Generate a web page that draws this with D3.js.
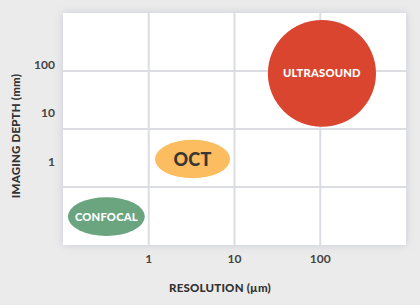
<!DOCTYPE html>
<html>
<head>
<meta charset="utf-8">
<script src="https://cdn.jsdelivr.net/npm/d3@7"></script>
<style>
  html, body { margin: 0; padding: 0; background: #ebebeb; }
  svg { display: block; font-family: Lato, "Open Sans", sans-serif; }
</style>
</head>
<body>
<div id="chart"></div>
<script>
// techniques and the range of resolution (µm) / imaging depth (mm) each covers
const techniques = ["ULTRASOUND", "OCT", "CONFOCAL"];
const resolutionMin = [24.5, 1.18, 0.114];
const resolutionMax = [447, 8.9, 0.9];
const depthMin = [5.2, 0.45, 0.029];
const depthMax = [830, 2.8, 0.184];

const xTicks = [1, 10, 100];
const yTicks = [1, 10, 100];
const gridRows = [1, 2, 3];

const fills = ["#da452f", "#fbbd60", "#6aa57f"];
const labelColors = ["#fff", "#3a3633", "#fff"];
const labelSizes = [11.2, 18, 11.2];

document.addEventListener("DOMContentLoaded", () => {
    const width = 420, height = 305;
    const plot = { left: 63, right: 406, top: 13, bottom: 245 };

    const svg = d3.select("#chart")
        .append("svg")
        .attr("width", width)
        .attr("height", height);

    // soft shadow behind the white panel
    const defs = svg.append("defs");
    const f = defs.append("filter").attr("id", "shadow")
        .attr("x", "-10%").attr("y", "-10%").attr("width", "120%").attr("height", "120%");
    f.append("feDropShadow")
        .attr("dx", 0).attr("dy", 0).attr("stdDeviation", 4)
        .attr("flood-color", "#9ea3bd").attr("flood-opacity", 0.45);

    let x = d3.scaleLog().domain([0.1, 1000]).range([plot.left, plot.right]);
    let y = d3.scaleLog().domain([1, 100]).range([161.5, 64.5]);
    let row = d3.scaleLinear().domain([0, 4]).range([plot.bottom, plot.top]);

    svg.append("rect")
        .attr("x", plot.left).attr("y", plot.top)
        .attr("width", plot.right - plot.left)
        .attr("height", plot.bottom - plot.top)
        .attr("fill", "#fff")
        .attr("filter", "url(#shadow)");

    // grid
    svg.append("g").selectAll("line").data(xTicks).enter().append("line")
        .attr("x1", d => x(d)).attr("x2", d => x(d))
        .attr("y1", plot.top).attr("y2", plot.bottom)
        .attr("stroke", "#dcdde3").attr("stroke-width", 2);
    svg.append("g").selectAll("line").data(gridRows).enter().append("line")
        .attr("y1", d => row(d)).attr("y2", d => row(d))
        .attr("x1", plot.left).attr("x2", plot.right)
        .attr("stroke", "#dcdde3").attr("stroke-width", 2);

    // tick labels
    svg.append("g").selectAll("text").data(xTicks).enter().append("text")
        .attr("x", d => x(d)).attr("y", 263)
        .attr("text-anchor", "middle")
        .attr("font-size", 12).attr("font-weight", 700).attr("fill", "#444")
        .text(d => d);
    svg.append("g").selectAll("text").data(yTicks).enter().append("text")
        .attr("x", 55).attr("y", d => y(d))
        .attr("dy", "0.36em")
        .attr("text-anchor", "end")
        .attr("font-size", 12).attr("font-weight", 700).attr("fill", "#444")
        .text(d => d);

    // axis titles
    svg.append("text")
        .attr("x", 220).attr("y", 292)
        .attr("text-anchor", "middle")
        .attr("font-size", 11.5).attr("font-weight", 900).attr("fill", "#333")
        .attr("letter-spacing", 0.2)
        .text("RESOLUTION (µm)");
    svg.append("text")
        .attr("transform", "translate(20,136) rotate(-90)")
        .attr("text-anchor", "middle")
        .attr("font-size", 11.5).attr("font-weight", 900).attr("fill", "#333")
        .attr("letter-spacing", 0.2)
        .text("IMAGING DEPTH (mm)");

    // technique bubbles
    const g = svg.append("g").selectAll("g").data(techniques).enter().append("g");
    const cx = (d, i) => (x(resolutionMin[i]) + x(resolutionMax[i])) / 2;
    const cy = (d, i) => (y(depthMin[i]) + y(depthMax[i])) / 2;
    g.append("ellipse")
        .attr("cx", cx).attr("cy", cy)
        .attr("rx", (d, i) => (x(resolutionMax[i]) - x(resolutionMin[i])) / 2)
        .attr("ry", (d, i) => (y(depthMin[i]) - y(depthMax[i])) / 2)
        .attr("fill", (d, i) => fills[i]);
    g.append("text")
        .attr("x", cx).attr("y", cy)
        .attr("dy", "0.36em")
        .attr("text-anchor", "middle")
        .attr("font-size", (d, i) => labelSizes[i])
        .attr("font-weight", 900)
        .attr("letter-spacing", 0.2)
        .attr("fill", (d, i) => labelColors[i])
        .text(d => d);
});
</script>
</body>
</html>
